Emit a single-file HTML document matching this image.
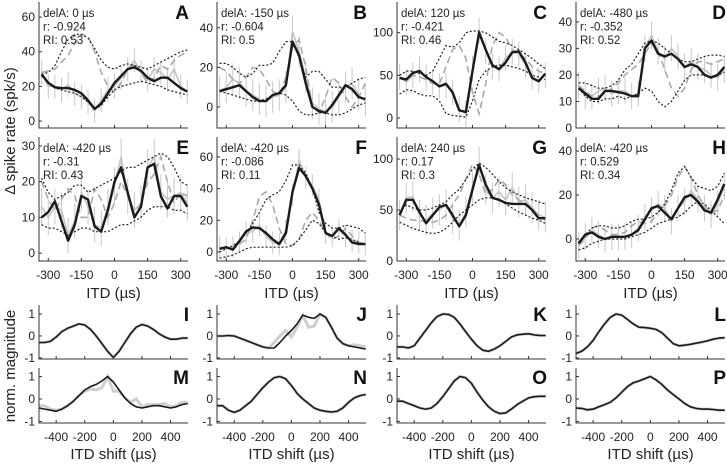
<!DOCTYPE html>
<html><head><meta charset="utf-8">
<style>
html,body{margin:0;padding:0;background:#fff;}
svg{display:block;font-family:"Liberation Sans",Arial,sans-serif;}
</style></head>
<body>
<svg id="fig" width="727" height="464" viewBox="0 0 727 464"></svg>
<script>
// ---------- data ----------
const itd = [-330,-300,-270,-240,-210,-180,-150,-120,-90,-60,-30,0,30,60,90,120,150,180,210,240,270,300,330];
const itdTicks = [-300,-150,0,150,300];
const shiftX = [-520,-480,-440,-400,-360,-320,-280,-240,-200,-160,-120,-80,-40,0,40,80,120,160,200,240,280,320,360,400,440,480,520];
const shiftTicks = [-400,-200,0,200,400];
const normTicks = [-1,0,1];

const blackA = [27,22,19.5,19,19,18,16,12,7,10,16,22,26,30,31,29,25,23,25,25,22,19,17];
const grayA  = [28,20,20,18,21,16,14,11,6,12,18,20,25,30,35,28,24,30,28,24,30,20,17];
const upA    = [27,28,32,40,47,50,50,48,42,35,31,30,32,33,32,31,30,32,34,36,38,40,41];
const loA    = [26,22,19,18,17,16,14,11,7,9,14,18,20,21,22,23,22,21,20,18,17,16,15];
const dashA  = [28,29,30,34,38,45,50,49,40,28,20,17,22,30,33,28,22,25,32,30,35,38,40];

const blackB = [8,9,10,11,8,5,3,3,6,7,11,33,26,12,0,-2,-3,1,6,11,9,5,4];
const grayB  = [8,10,14,12,8,6,4,3,5,6,10,38,28,15,2,-1,-2,0,5,10,12,6,3];
const upB    = [22,22,20,17,15,17,21,21,22,28,33,33,25,15,18,18,14,10,10,10,12,14,15];
const loB    = [8,7,6,5,4,3,3,4,6,7,6,3,-2,-4,-4,-3,-3,-4,-4,-3,-1,1,2];
const dashB  = [20,18,14,12,15,20,19,14,8,6,15,30,34,20,0,-3,5,15,12,5,0,5,12];

const blackC = [47,45,53,55,48,43,37,40,30,9,7,55,100,80,62,57,65,77,78,65,47,43,52];
const grayC  = [48,42,50,57,47,42,37,38,30,10,5,58,103,78,60,58,70,78,75,62,48,44,50];
const upC    = [50,55,55,52,50,55,70,85,83,88,100,102,102,100,95,90,88,85,80,75,70,63,58];
const loC    = [28,33,32,28,26,26,20,5,3,2,1,20,45,55,60,62,62,60,58,55,50,48,45];
const dashC  = [48,45,50,48,45,40,40,60,80,85,70,30,5,40,85,100,95,80,75,70,60,55,52];

const blackD = [15,13,11,11,14,14,13.5,13,12,12,30,33,28,27,28,26,23,24,23,20,19,20,23];
const grayD  = [16,12,12,14,15,13,14,14,12,13,30,35,29,26,30,27,23,25,23,22,20,19,22];
const upD    = [17,17,16,15,15,16,18,22,24,28,32,33,32,30,28,26,25,25,26,27,27.5,27.5,27];
const loD    = [15,12,10,10,11,11,12,11,12,13,15,14,10,8,10,14,18,20,20,20,19,20,21];
const dashD  = [16,14,12,12,13,15,17,20,22,24,28,32,29,22,15,12,15,22,25,25,24,25,26];

const blackE = [10,11.5,14.5,9,3.5,8,16,15,7.5,6,12,20,24,17,10,13,24,25,16,12.5,16,16,13];
const grayE  = [13,10,13,12,5,9,17,13,8,7,13,19,27,16,12,14,24,27,17,15,16,17,14];
const upE    = [21,17,15,16,17,19,19,17,18,19,20,21,23,24,24,25,26,27,28,27,24,20,19];
const loE    = [8,7,7,6,5,6,7,7,6,6,6,7,8,8,9,10,12,13,13,13,12,12,11];
const dashE  = [20,15,12,15,18,16,10,10,18,15,10,14,20,16,10,14,20,22,27,20,14,17,16];

const blackF = [2,3,1.5,7,13,15.5,15,12,8,5,12,38,53,48,40,30,12,10,15,11,6,5,5];
const grayF  = [3,2,3,6,12,13,17,10,6,5,14,36,58,47,42,33,12,10,14,10,7,6,5];
const upF    = [0,2,4,7,12,18,25,33,36,38,45,55,55,50,40,25,18,15,15,17,16,15,12];
const loF    = [-4,-3,-2,0,2,3,3,3,3,3,3,4,8,14,20,18,12,10,8,9,8,6,5];
const dashF  = [2,3,2,5,8,20,35,38,30,15,5,4,8,20,25,20,12,8,10,15,10,6,5];

const blackG = [45,60,60,48,37,45,53,55,45,34,45,70,94,75,62,60,57,56,56,56,50,42,42];
const grayG  = [45,62,63,45,40,47,50,55,42,35,48,72,97,70,62,68,60,72,58,60,52,45,43];
const upG    = [48,55,52,50,50,52,55,58,65,70,80,90,96,92,85,78,72,68,65,62,60,58,56];
const loG    = [38,35,32,30,28,27,28,32,38,45,50,55,60,62,62,60,56,52,48,45,42,40,37];
const dashG  = [45,42,40,40,38,38,40,45,55,65,80,95,85,65,70,80,75,65,60,55,50,45,40];

const blackH = [-2,2,3,1,0,1,1,1,2,4,9,14,15,12,9,14,19,20,17,13,12,18,25];
const grayH  = [-3,1,4,2,0,1,1,1,2,5,10,13,16,14,8,14,17,22,18,14,11,16,24];
const upH    = [-2,2,5,6,6,5,5,6,8,9,9,10,12,16,22,30,33,28,24,23,22,24,30];
const loH    = [-5,-4,-2,-1,0,0,0,0,1,2,3,5,7,8,9,10,12,15,17,16,13,10,7];
const dashH  = [-3,0,5,6,4,2,2,3,6,8,7,8,12,15,20,28,33,28,20,15,12,13,20];

const errA = [7], errB = [8], errC = [15], errD = [5], errE = [5], errF = [7], errG = [15], errH = [6];

const normI = [-0.3,-0.3,-0.25,-0.05,0.2,0.35,0.45,0.55,0.5,0.3,0,-0.35,-0.7,-0.98,-0.7,-0.3,0.1,0.4,0.52,0.45,0.3,0.1,-0.05,-0.15,-0.15,-0.1,-0.1];
const normJ = [0,0,0.02,0,-0.1,-0.2,-0.3,-0.4,-0.5,-0.55,-0.55,-0.3,0,0.25,0.55,0.95,0.85,0.8,1.0,0.85,0.4,-0.1,-0.35,-0.45,-0.5,-0.55,-0.6];
const grayJ = [0,0,0.02,0,-0.1,-0.2,-0.3,-0.4,-0.5,-0.55,-0.3,0,0.25,-0.05,0.4,0.95,0.4,0.45,1.0,0.85,0.4,-0.1,-0.35,-0.45,-0.4,-0.45,-0.5];
const normK = [-0.5,-0.5,-0.55,-0.45,-0.1,0.25,0.6,0.88,1.0,0.98,0.85,0.55,0.2,-0.15,-0.45,-0.65,-0.7,-0.6,-0.45,-0.25,-0.05,0.05,0.08,0.1,0.05,0.02,0.02];
const normL = [-0.8,-0.7,-0.5,-0.2,0.2,0.55,0.85,1.0,0.95,0.75,0.55,0.4,0.38,0.35,0.3,0.15,-0.1,-0.35,-0.45,-0.42,-0.38,-0.33,-0.28,-0.22,-0.15,-0.1,-0.08];
const normM = [-0.4,-0.45,-0.5,-0.55,-0.45,-0.3,-0.1,0.15,0.4,0.55,0.65,0.8,1.0,0.75,0.4,0.05,-0.2,-0.35,-0.4,-0.35,-0.3,-0.3,-0.35,-0.4,-0.35,-0.25,-0.2];
const grayM = [-0.3,-0.3,-0.45,-0.5,-0.45,-0.3,-0.1,0.15,0.35,0.45,0.4,0.5,1.0,0.35,0.35,0.05,-0.15,0.0,-0.35,-0.25,-0.25,-0.25,-0.2,-0.35,-0.3,-0.15,-0.15];
const normN = [-0.3,-0.3,-0.5,-0.6,-0.5,-0.3,-0.1,0.2,0.5,0.75,0.95,1.0,0.9,0.6,0.25,0,-0.2,-0.4,-0.5,-0.55,-0.58,-0.55,-0.4,-0.15,0.05,0.15,0.2];
const normO = [-0.1,-0.1,-0.2,-0.3,-0.4,-0.45,-0.4,-0.2,0.1,0.45,0.8,1.0,0.95,0.7,0.3,-0.05,-0.35,-0.55,-0.65,-0.62,-0.45,-0.25,-0.1,0.05,0.1,0.12,0.12];
const normP = [-0.4,-0.42,-0.48,-0.45,-0.35,-0.25,-0.15,0.05,0.3,0.55,0.72,0.8,0.9,1.0,0.85,0.65,0.4,0.2,0.0,-0.2,-0.35,-0.42,-0.45,-0.45,-0.47,-0.5,-0.5];

// ---------- layout ----------
const colX = [39,217,397,576];
const colW = 149;
const topRows = [[2,128],[137,261]];
const botRows = [[305,359],[368,423]];
const ITD_MIN = -342, ITD_MAX = 333, SH_MIN = -520, SH_MAX = 522;

const topPanels = [
 {L:'A',c:0,r:0,ymin:-4,ymax:68.7,yt:[0,20,40,60],b:blackA,g:grayA,u:upA,l:loA,d:dashA,e:errA,t:['delA: 0 µs','r: -0.924','RI: 0.53']},
 {L:'B',c:1,r:0,ymin:-10.6,ymax:53,yt:[0,20,40],b:blackB,g:grayB,u:upB,l:loB,d:dashB,e:errB,t:['delA: -150 µs','r: -0.604','RI: 0.5']},
 {L:'C',c:2,r:0,ymin:-11.8,ymax:136,yt:[0,50,100],b:blackC,g:grayC,u:upC,l:loC,d:dashC,e:errC,t:['delA: 120 µs','r: -0.421','RI: 0.46']},
 {L:'D',c:3,r:0,ymin:0,ymax:47.5,yt:[0,10,20,30,40],b:blackD,g:grayD,u:upD,l:loD,d:dashD,e:errD,t:['delA: -480 µs','r: -0.352','RI: 0.52']},
 {L:'E',c:0,r:1,ymin:-2.2,ymax:32.5,yt:[0,10,20,30],b:blackE,g:grayE,u:upE,l:loE,d:dashE,e:errE,t:['delA: -420 µs','r: -0.31','RI: 0.43']},
 {L:'F',c:1,r:1,ymin:-5.7,ymax:72.6,yt:[0,20,40,60],b:blackF,g:grayF,u:upF,l:loF,d:dashF,e:errF,t:['delA: -420 µs','r: -0.086','RI: 0.11']},
 {L:'G',c:2,r:1,ymin:0,ymax:121.6,yt:[0,50,100],b:blackG,g:grayG,u:upG,l:loG,d:dashG,e:errG,t:['delA: 240 µs','r: 0.17','RI: 0.3']},
 {L:'H',c:3,r:1,ymin:-10,ymax:46.4,yt:[0,20,40],b:blackH,g:grayH,u:upH,l:loH,d:dashH,e:errH,t:['delA: -420 µs','r: 0.529','RI: 0.34']}
];
const botPanels = [
 {L:'I',c:0,r:0,ymin:-1.05,ymax:1.41,b:normI,g:normI},
 {L:'J',c:1,r:0,ymin:-1.05,ymax:1.41,b:normJ,g:grayJ},
 {L:'K',c:2,r:0,ymin:-1.05,ymax:1.41,b:normK,g:normK},
 {L:'L',c:3,r:0,ymin:-1.05,ymax:1.41,b:normL,g:normL},
 {L:'M',c:0,r:1,ymin:-1.07,ymax:1.38,b:normM,g:grayM},
 {L:'N',c:1,r:1,ymin:-1.07,ymax:1.38,b:normN,g:normN},
 {L:'O',c:2,r:1,ymin:-1.07,ymax:1.38,b:normO,g:normO},
 {L:'P',c:3,r:1,ymin:-1.07,ymax:1.38,b:normP,g:normP}
];

const NS = 'http://www.w3.org/2000/svg';
const svg = document.getElementById('fig');
function mk(tag, attrs, parent){
  const e = document.createElementNS(NS, tag);
  for (const k in attrs) e.setAttribute(k, attrs[k]);
  (parent||svg).appendChild(e);
  return e;
}
function pts(xs, ys, fx, fy){ return xs.map((x,i)=>fx(x).toFixed(1)+','+fy(ys[i]).toFixed(1)).join(' '); }

function axes(g, x0, y0, y1, fx, fy, xt, yt, xlab, ylabels){
  const ax = mk('path',{d:`M${x0},${y0} L${x0},${y1} L${x0+colW},${y1}`,fill:'none',stroke:'#333','stroke-width':1},g);
  
  
  yt.forEach(v=>{
    const y = fy(v);
    const tk = mk('line',{x1:x0,x2:x0+3,y1:y,y2:y,stroke:'#333','stroke-width':1},g);
    
    
    const tl = mk('text',{x:x0-4,y:y+4,'text-anchor':'end','font-size':ylabels?12:12,fill:'#222'},g);
    
    
    tl.textContent = v;
  });
  xt.forEach(v=>{
    const x = fx(v);
    const tk = mk('line',{x1:x,x2:x,y1:y1,y2:y1-3,stroke:'#333','stroke-width':1},g);
    
    
    if (xlab){
      const tl = mk('text',{x:x,y:y1+18,'text-anchor':'middle','font-size':12,fill:'#222'},g);
      
      
      tl.textContent = v;
    }
  });
}

topPanels.forEach(p=>{
  const x0 = colX[p.c], [y0,y1] = topRows[p.r];
  const fx = v => x0 + (v-ITD_MIN)/(ITD_MAX-ITD_MIN)*colW;
  const fy = v => y1 - (v-p.ymin)/(p.ymax-p.ymin)*(y1-y0);
  const g = mk('g',{});
  
  
  // error bars + gray data
  itd.forEach((x,i)=>{
    const eb = mk('line',{x1:fx(x),x2:fx(x),y1:fy(p.g[i]-p.e[0]),y2:fy(p.g[i]+p.e[0]),stroke:'#c8c8c8','stroke-width':1},g);
    
    
  });
  const gl = mk('polyline',{points:pts(itd,p.g,fx,fy),fill:'none',stroke:'#c4c4c4','stroke-width':1.6},g);
  
  
  const dl = mk('polyline',{points:pts(itd,p.d,fx,fy),fill:'none',stroke:'#aaa','stroke-width':1.6,'stroke-dasharray':'7,4'},g);
  
  
  const ul = mk('polyline',{points:pts(itd,p.u,fx,fy),fill:'none',stroke:'#222','stroke-width':1.2,'stroke-dasharray':'2,2'},g);
  
  
  const ll = mk('polyline',{points:pts(itd,p.l,fx,fy),fill:'none',stroke:'#222','stroke-width':1.2,'stroke-dasharray':'2,2'},g);
  
  
  const bl = mk('polyline',{points:pts(itd,p.b,fx,fy),fill:'none',stroke:'#1a1a1a','stroke-width':2.4,'stroke-linejoin':'round'},g);
  
  
  axes(g,x0,y0,y1,fx,fy,itdTicks,p.yt,p.r===1);
  p.t.forEach((s,i)=>{
    const t = mk('text',{x:x0+4,y:y0+15+i*13.5,'font-size':11.5,fill:'#222'},g);
    
    
    t.textContent = s;
  });
  const lt = mk('text',{x:x0+colW+1,y:y0+17,'text-anchor':'end','font-size':19,'font-weight':'bold',fill:'#111'},g);
  
  
  lt.textContent = p.L;
  if (p.r===1){
    const xt = mk('text',{x:x0+colW/2,y:y1+37,'text-anchor':'middle','font-size':15,fill:'#222'},g);
    
    
    xt.textContent = 'ITD (µs)';
  }
});

botPanels.forEach(p=>{
  const x0 = colX[p.c], [y0,y1] = botRows[p.r];
  const fx = v => x0 + (v-SH_MIN)/(SH_MAX-SH_MIN)*colW;
  const fy = v => y1 - (v-p.ymin)/(p.ymax-p.ymin)*(y1-y0);
  const g = mk('g',{});
  
  
  const gl = mk('polyline',{points:pts(shiftX,p.g,fx,fy),fill:'none',stroke:'#cfcfcf','stroke-width':3},g);
  
  
  const bl = mk('polyline',{points:pts(shiftX,p.b,fx,fy),fill:'none',stroke:'#1a1a1a','stroke-width':1.6,'stroke-linejoin':'round'},g);
  
  
  axes(g,x0,y0,y1,fx,fy,shiftTicks,normTicks,p.r===1);
  const lt = mk('text',{x:x0+colW+1,y:y0+16,'text-anchor':'end','font-size':19,'font-weight':'bold',fill:'#111'},g);
  
  
  lt.textContent = p.L;
  if (p.r===1){
    const xt = mk('text',{x:x0+colW/2,y:y1+36,'text-anchor':'middle','font-size':15,fill:'#222'},g);
    
    
    xt.textContent = 'ITD shift (µs)';
  }
});

const yl1 = mk('text',{x:0,y:0,transform:'translate(15,131) rotate(-90)','text-anchor':'middle','font-size':15,fill:'#222'});


yl1.textContent = 'Δ spike rate (spk/s)';
const yl2 = mk('text',{x:0,y:0,transform:'translate(15,366) rotate(-90)','text-anchor':'middle','font-size':15,fill:'#222'});


yl2.textContent = 'norm. magnitude';
</script>
</body></html>
